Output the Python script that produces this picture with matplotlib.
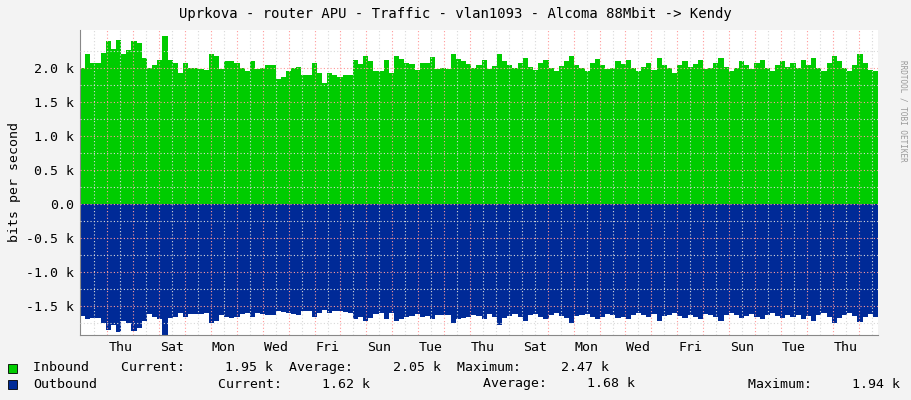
import numpy as np
import matplotlib.pyplot as plt

# inbound / outbound traffic in k bits per second, one value per ~4.8 h
inbound = [2.0, 2.2, 2.08, 2.07, 2.22, 2.4, 2.28, 2.42, 2.2, 2.27, 2.4, 2.37, 2.15, 2.0, 2.05,
           2.12, 2.47, 2.12, 2.08, 1.93, 2.07, 2.0, 2.0, 1.98, 1.97, 2.2, 2.17, 1.98, 2.1, 2.1,
           2.08, 2.0, 1.95, 2.1, 1.98, 2.0, 2.05, 2.05, 1.84, 1.87, 1.96, 2.0, 2.02, 1.9, 1.9,
           2.07, 1.92, 1.78, 1.92, 1.9, 1.87, 1.9, 1.9, 2.12, 2.06, 2.17, 2.1, 1.95, 1.95, 2.12,
           1.93, 2.17, 2.14, 2.07, 2.06, 1.97, 2.07, 2.07, 2.16, 1.98, 2.0, 1.98, 2.2, 2.13, 2.1,
           2.06, 2.0, 2.05, 2.12, 1.98, 2.03, 2.2, 2.1, 2.05, 2.0, 2.08, 2.15, 2.02, 1.97, 2.07,
           2.12, 2.0, 1.95, 2.03, 2.1, 2.18, 2.05, 2.0, 1.96, 2.08, 2.14, 2.05, 1.98, 2.0, 2.1,
           2.06, 2.12, 2.0, 1.95, 2.02, 2.08, 1.97, 2.15, 2.04, 2.0, 1.92, 2.05, 2.1, 2.02, 2.06,
           2.12, 1.98, 2.0, 2.08, 2.15, 2.02, 1.96, 2.0, 2.1, 2.05, 1.98, 2.08, 2.12, 2.0, 1.95,
           2.05, 2.1, 2.02, 2.08, 2.0, 2.12, 2.05, 2.15, 2.0, 1.96, 2.08, 2.18, 2.1, 2.0, 1.95,
           2.05, 2.2, 2.08, 1.97, 1.95]
outbound = [-1.65, -1.7, -1.68, -1.68, -1.75, -1.85, -1.78, -1.88, -1.72, -1.75, -1.87, -1.83,
            -1.72, -1.62, -1.66, -1.7, -1.93, -1.68, -1.66, -1.6, -1.66, -1.62, -1.62, -1.62,
            -1.61, -1.75, -1.72, -1.63, -1.66, -1.68, -1.66, -1.62, -1.6, -1.66, -1.6, -1.62,
            -1.63, -1.64, -1.58, -1.59, -1.6, -1.62, -1.63, -1.58, -1.58, -1.66, -1.6, -1.56,
            -1.6, -1.58, -1.58, -1.59, -1.6, -1.7, -1.66, -1.72, -1.68, -1.62, -1.6, -1.7,
            -1.6, -1.72, -1.7, -1.66, -1.65, -1.62, -1.66, -1.65, -1.7, -1.63, -1.64, -1.63,
            -1.75, -1.7, -1.68, -1.66, -1.63, -1.65, -1.7, -1.62, -1.66, -1.78, -1.68, -1.65,
            -1.62, -1.67, -1.72, -1.64, -1.62, -1.66, -1.7, -1.63, -1.6, -1.65, -1.68, -1.75,
            -1.65, -1.63, -1.62, -1.67, -1.7, -1.66, -1.62, -1.63, -1.68, -1.66, -1.7, -1.63,
            -1.61, -1.64, -1.67, -1.62, -1.72, -1.65, -1.63, -1.6, -1.65, -1.68, -1.64, -1.66,
            -1.7, -1.62, -1.63, -1.67, -1.72, -1.64, -1.61, -1.63, -1.68, -1.65, -1.62, -1.67,
            -1.7, -1.63, -1.6, -1.65, -1.68, -1.64, -1.67, -1.63, -1.7, -1.65, -1.72, -1.63,
            -1.61, -1.67, -1.75, -1.68, -1.63, -1.6, -1.65, -1.74, -1.67, -1.62, -1.66]
days = ['Thu', 'Sat', 'Mon', 'Wed', 'Fri', 'Sun', 'Tue', 'Thu', 'Sat', 'Mon', 'Wed', 'Fri',
        'Sun', 'Tue', 'Thu']
span = 30.8          # days shown
first_midnight = 1.054

plt.rcParams['font.family'] = 'DejaVu Sans Mono'
fig = plt.figure(figsize=(9.11, 4.0), dpi=100, facecolor='#f3f3f3')
ax = fig.add_axes([80/911, 65/400, 798/911, 305/400])
ax.set_facecolor('white')

x = np.linspace(0, span, len(inbound) + 1)
ax.stairs(inbound, x, fill=True, color='#00cc00', baseline=0)
ax.stairs(outbound, x, fill=True, color='#002a97', baseline=0)

ax.set_xlim(0, span)
ax.set_ylim(-1.93, 2.56)

# grid: gray every 12h / 0.25k, red at each midnight / 0.5k
for d in np.arange(first_midnight - 0.5, span, 0.5):
    is_major = abs((d - first_midnight) % 1) < 1e-6
    ax.axvline(d, color='#ff9a9a' if is_major else '#d8d8d8', lw=0.8,
               ls=(0, (1, 2)), zorder=3)
for v in np.arange(-1.75, 2.5, 0.25):
    is_major = abs(v * 2 - round(v * 2)) < 1e-6
    ax.axhline(v, color='#ff9a9a' if is_major else '#d8d8d8', lw=0.8,
               ls=(0, (1, 2)), zorder=3)

ticks = [v for v in np.arange(-1.5, 2.01, 0.5)]
ax.set_yticks(ticks)
ax.set_yticklabels(['%.1f k' % v if abs(v) > 1e-9 else '0.0' for v in ticks])
ax.set_xticks([first_midnight + 0.5 + 2 * i for i in range(len(days))])
ax.set_xticklabels(days)
ax.tick_params(length=0, labelsize=9.5, pad=4)
for s in ['top', 'right']:
    ax.spines[s].set_visible(False)
ax.spines['left'].set_color('#888888')
ax.spines['bottom'].set_color('#888888')
ax.set_ylabel('bits per second', fontsize=9.5)

fig.text(0.5, 1 - 14/400, 'Uprkova - router APU - Traffic - vlan1093 - Alcoma 88Mbit -> Kendy',
         ha='center', va='center', fontsize=10)
fig.text(903/911, 0.85, 'RRDTOOL / TOBI OETIKER', rotation=270, ha='center', va='top',
         fontsize=5.5, color='#999999')

fig.patches.append(plt.Rectangle((8/911, 1 - 373/400), 9/911, 9/400, transform=fig.transFigure,
                                 facecolor='#00cc00', edgecolor='black', lw=0.6))
fig.patches.append(plt.Rectangle((8/911, 1 - 389/400), 9/911, 9/400, transform=fig.transFigure,
                                 facecolor='#002a97', edgecolor='black', lw=0.6))
fig.text(33/911, 1 - 368/400,
         'Inbound    Current:     1.95 k  Average:     2.05 k  Maximum:     2.47 k',
         va='center', fontsize=9.5)
fig.text(33/911, 1 - 384/400, 'Outbound', va='center', fontsize=9.5)
fig.text(218/911, 1 - 384/400, 'Current:     1.62 k', va='center', fontsize=9.5)
fig.text(483/911, 1 - 384/400, 'Average:     1.68 k', va='center', fontsize=9.5)
fig.text(748/911, 1 - 384/400, 'Maximum:     1.94 k', va='center', fontsize=9.5)

fig.savefig('out.png', dpi=100, facecolor=fig.get_facecolor())
